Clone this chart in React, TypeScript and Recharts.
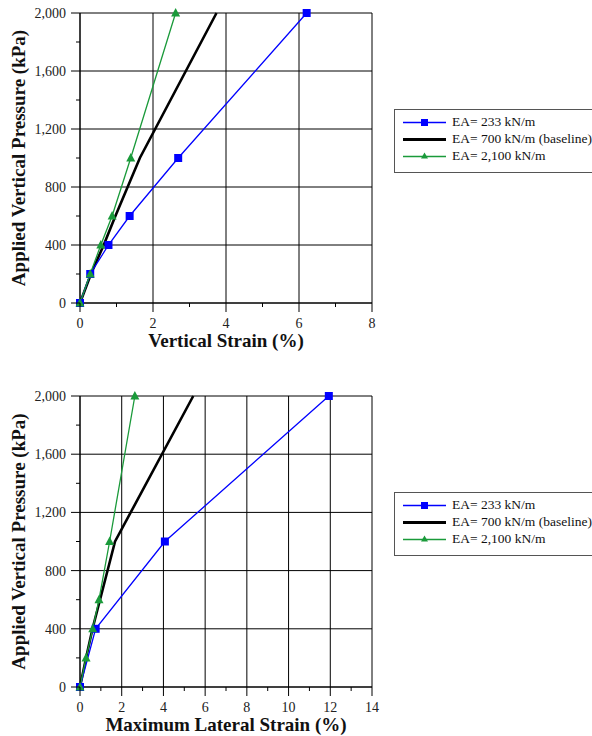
import React from 'react';
import { LineChart, Line, XAxis, YAxis, ReferenceLine } from 'recharts';

const seriesNames = ['EA= 233 kN/m', 'EA= 700 kN/m (baseline)', 'EA= 2,100 kN/m'];
const seriesColors = ['#0000ff', '#000000', '#1a9a3a'];
const seriesWidths = [1.3, 2.6, 1.3];
const seriesMarkers = ['square', 'none', 'triangle'];

const pressure = [0, 200, 400, 600, 1000, 2000];

// vertical strain (%) per pressure step
const vStrainLow = [0, 0.28, 0.78, 1.36, 2.69, 6.21];
const vStrainBase = [0, 0.3, 0.65, 0.97, 1.64, 3.74];
const vStrainHigh = [0, 0.28, 0.57, 0.88, 1.39, 2.62];

// maximum lateral strain (%)
const lPressureLow = [0, 400, 1000, 2000];
const lStrainLow = [0, 0.75, 4.07, 11.93];
const lStrainBase = [0, 0.29, 0.6, 0.96, 1.68, 5.43];
const lStrainHigh = [0, 0.29, 0.61, 0.91, 1.42, 2.63];

const yTicks = [0, 200, 400, 600, 800, 1000, 1200, 1400, 1600, 1800, 2000];
const yMajor = [0, 400, 800, 1200, 1600, 2000];
const xTicksTop = [0, 1, 2, 3, 4, 5, 6, 7, 8];
const xMajorTop = [0, 2, 4, 6, 8];
const xTicksBottom = [0, 1, 2, 3, 4, 5, 6, 7, 8, 9, 10, 11, 12, 13, 14];
const xMajorBottom = [0, 2, 4, 6, 8, 10, 12, 14];

const FONT = '"Liberation Serif", "Times New Roman", serif';

const toPoints = (xs: number[], ys: number[]) => xs.map((x, i) => ({ x, y: ys[i] }));

const SquareDot = (p: any) => (
  <rect key={`sq-${p.index}`} x={p.cx - 4} y={p.cy - 4} width={8} height={8} fill="#0000ff" />
);
const TriangleDot = (p: any) => (
  <path key={`tr-${p.index}`} d={`M${p.cx},${p.cy - 5}L${p.cx + 4.5},${p.cy + 3.5}L${p.cx - 4.5},${p.cy + 3.5}Z`} fill="#1a9a3a" />
);

const makeXTick = (major: number[]) => (p: any) => {
  const isMajor = major.includes(p.payload.value);
  return (
    <g key={`xt-${p.payload.value}`}>
      <line x1={p.x} x2={p.x} y1={p.y} y2={p.y + (isMajor ? 9 : 4)} stroke="#000" />
      {isMajor && (
        <text x={p.x} y={p.y + 25} textAnchor="middle" fontSize={14} fontFamily={FONT} fill="#222">
          {p.payload.value}
        </text>
      )}
    </g>
  );
};

const YTick = (p: any) => {
  const isMajor = yMajor.includes(p.payload.value);
  return (
    <g key={`yt-${p.payload.value}`}>
      <line x1={p.x} x2={p.x - (isMajor ? 9 : 4)} y1={p.y} y2={p.y} stroke="#000" />
      {isMajor && (
        <text x={p.x - 14} y={p.y + 5} textAnchor="end" fontSize={14} fontFamily={FONT} fill="#222">
          {p.payload.value.toLocaleString('en-US')}
        </text>
      )}
    </g>
  );
};

const yTitle = (props: any) => {
  const vb = props.viewBox || { x: 0, y: 13, width: 80, height: 290 };
  const cy = vb.y + vb.height / 2;
  return (
    <text x={18} y={cy} transform={`rotate(-90, 18, ${cy})`} textAnchor="middle" dominantBaseline="central"
      fontSize={19} fontWeight="bold" fontFamily={FONT} fill="#111">
      Applied Vertical Pressure (kPa)
    </text>
  );
};

const xTitle = (text: string, dy: number) => (props: any) => {
  const vb = props.viewBox || { x: 80, y: 303, width: 292, height: 60 };
  return (
    <text x={vb.x + vb.width / 2} y={vb.y + dy} textAnchor="middle" fontSize={19} fontWeight="bold"
      fontFamily={FONT} fill="#111">
      {text}
    </text>
  );
};

function LegendBox({ top }: { top: number }) {
  return (
    <div style={{
      position: 'absolute', left: 394, top, width: 215, height: 58, border: '1px solid #555',
      paddingTop: 3.5, boxSizing: 'content-box', background: '#fff', fontFamily: FONT, fontSize: 13.5,
    }}>
      {seriesNames.map((name, i) => (
        <div key={name} style={{ display: 'flex', alignItems: 'center', height: 17, paddingLeft: 8 }}>
          <svg width={43} height={17} style={{ marginRight: 6, flexShrink: 0 }}>
            <line x1={0} x2={43} y1={8.5} y2={8.5} stroke={seriesColors[i]} strokeWidth={seriesWidths[i] + 0.4} />
            {seriesMarkers[i] === 'square' && <rect x={18} y={5} width={7} height={7} fill={seriesColors[i]} />}
            {seriesMarkers[i] === 'triangle' && <path d="M21.5,4.5L25,10.5L18,10.5Z" fill={seriesColors[i]} />}
          </svg>
          <span style={{ color: '#111', whiteSpace: 'nowrap' }}>{name}</span>
        </div>
      ))}
    </div>
  );
}

function StrainChart({ width, height, xMax, xTicks, xMajor, xLabel, xAxisHeight, titleDy, low, base, high }: any) {
  return (
    <LineChart width={width} height={height} margin={{ top: 13, right: 592 - 372, left: 0, bottom: 0 }}>
      <XAxis type="number" dataKey="x" domain={[0, xMax]} ticks={xTicks} interval={0} tickSize={0} tickMargin={0}
        tick={makeXTick(xMajor)} axisLine={{ stroke: '#000' }} height={xAxisHeight} label={xTitle(xLabel, titleDy)} />
      <YAxis type="number" dataKey="y" domain={[0, 2000]} ticks={yTicks} interval={0} tickSize={0} tickMargin={0}
        tick={YTick} axisLine={{ stroke: '#000' }} width={80} label={yTitle} />
      {xMajor.map((v: number) => (
        <ReferenceLine key={`vx-${v}`} x={v} stroke="#000" strokeWidth={1} />
      ))}
      {yMajor.map((v) => (
        <ReferenceLine key={`hy-${v}`} y={v} stroke="#000" strokeWidth={1} />
      ))}
      <Line data={base} dataKey="y" type="linear" stroke={seriesColors[1]} strokeWidth={seriesWidths[1]} dot={false} isAnimationActive={false} />
      <Line data={low} dataKey="y" type="linear" stroke={seriesColors[0]} strokeWidth={seriesWidths[0]} dot={SquareDot} isAnimationActive={false} />
      <Line data={high} dataKey="y" type="linear" stroke={seriesColors[2]} strokeWidth={seriesWidths[2]} dot={TriangleDot} isAnimationActive={false} />
    </LineChart>
  );
}

export default function App() {
  return (
    <div style={{ position: 'absolute', left: 0, top: 0, width: 592, height: 736, overflow: 'hidden', background: '#fff' }}>
      <div style={{ position: 'absolute', left: 0, top: 0 }}>
        <StrainChart width={592} height={368} xMax={8} xTicks={xTicksTop} xMajor={xMajorTop}
          xLabel="Vertical Strain (%)" xAxisHeight={65} titleDy={44}
          low={toPoints(vStrainLow, pressure)} base={toPoints(vStrainBase, pressure)} high={toPoints(vStrainHigh, pressure)} />
      </div>
      <LegendBox top={109} />
      <div style={{ position: 'absolute', left: 0, top: 383 }}>
        <StrainChart width={592} height={353} xMax={14} xTicks={xTicksBottom} xMajor={xMajorBottom}
          xLabel="Maximum Lateral Strain (%)" xAxisHeight={49} titleDy={44}
          low={toPoints(lStrainLow, lPressureLow)} base={toPoints(lStrainBase, pressure)} high={toPoints(lStrainHigh, pressure)} />
      </div>
      <LegendBox top={492} />
    </div>
  );
}
